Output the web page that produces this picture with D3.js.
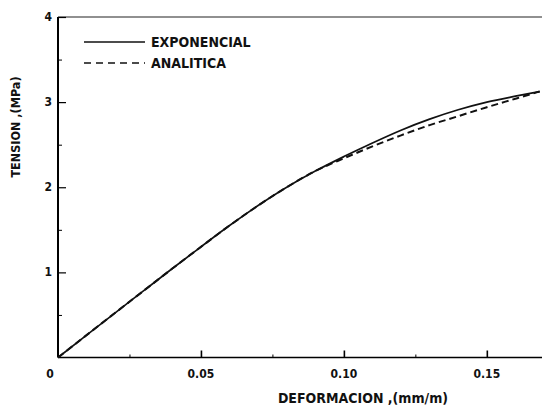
<!DOCTYPE html>
<html>
<head>
<meta charset="utf-8">
<script src="https://cdn.jsdelivr.net/npm/d3@7"></script>
<style>
  body { margin: 0; background: #fff; }
  text { font-family: "DejaVu Sans Condensed", "DejaVu Sans", sans-serif; font-weight: bold; fill: #111; }
</style>
</head>
<body>
<div id="chart"></div>
<script>
// curve readings (deformacion mm/m, tension MPa)
var expX = [0, 0.01, 0.02, 0.03, 0.04, 0.05, 0.06, 0.07, 0.08, 0.09, 0.10, 0.11, 0.12, 0.13, 0.14, 0.15, 0.16, 0.1685];
var expY = [0, 0.263, 0.525, 0.785, 1.045, 1.30, 1.55, 1.785, 2.0, 2.19, 2.36, 2.52, 2.67, 2.80, 2.91, 3.00, 3.07, 3.125];
var anaX = [0, 0.01, 0.02, 0.03, 0.04, 0.05, 0.06, 0.07, 0.08, 0.09, 0.10, 0.11, 0.12, 0.13, 0.14, 0.15, 0.16, 0.1685];
var anaY = [0, 0.263, 0.525, 0.785, 1.045, 1.30, 1.55, 1.785, 2.0, 2.19, 2.34, 2.48, 2.61, 2.73, 2.835, 2.94, 3.04, 3.125];

var xTicks = [0, 0.05, 0.10, 0.15];
var xTickLabels = ['0', '0.05', '0.10', '0.15'];
var xMinor = [0.025, 0.075, 0.125];
var yTicks = [1, 2, 3, 4];
var yMinor = [0.5, 1.5, 2.5, 3.5];
var seriesNames = ['EXPONENCIAL', 'ANALITICA'];

var width = 542, height = 407;

var svg = d3.select('#chart').append('svg')
  .attr('width', width).attr('height', height);

var x = d3.scaleLinear().domain([0, 0.1693]).range([58, 542]);
var y = d3.scaleLinear().domain([0, 4]).range([357.5, 17]);

// top border
svg.append('line')
  .attr('x1', x(0)).attr('x2', width)
  .attr('y1', y(4)).attr('y2', y(4))
  .attr('stroke', '#222').attr('stroke-width', 1.2);

// bottom axis, ticks pointing up
var xAxis = svg.append('g').attr('transform', 'translate(0,' + y(0) + ')')
  .call(d3.axisBottom(x).tickValues(xTicks.slice(1)).tickSize(-7).tickFormat(''));
xAxis.select('.domain').attr('stroke-width', 1.6).attr('d', 'M' + x(0) + ',0H' + width);
xAxis.selectAll('.tick line').attr('stroke-width', 1.6);
svg.append('g').attr('transform', 'translate(0,' + y(0) + ')')
  .call(d3.axisBottom(x).tickValues(xMinor).tickSize(-3).tickFormat(''))
  .select('.domain').remove();

svg.selectAll('.xlab').data(xTicks).enter().append('text')
  .attr('x', function (d, i) { return i === 0 ? x(d) - 8 : x(d); })
  .attr('y', 378)
  .attr('text-anchor', 'middle')
  .attr('font-size', 12)
  .text(function (d, i) { return xTickLabels[i]; });

// left axis, ticks pointing right
var yAxis = svg.append('g').attr('transform', 'translate(' + x(0) + ',0)')
  .call(d3.axisLeft(y).tickValues(yTicks).tickSize(-8).tickFormat(''));
yAxis.select('.domain').attr('stroke-width', 2).attr('d', 'M0,' + y(0) + 'V' + y(4));
yAxis.selectAll('.tick line').attr('stroke-width', 1.2);
svg.append('g').attr('transform', 'translate(' + x(0) + ',0)')
  .call(d3.axisLeft(y).tickValues(yMinor).tickSize(-4).tickFormat(''))
  .select('.domain').remove();

svg.selectAll('.ylab').data(yTicks).enter().append('text')
  .attr('x', x(0) - 6)
  .attr('y', function (d) { return y(d) + 4; })
  .attr('text-anchor', 'end')
  .attr('font-size', 12)
  .text(function (d) { return d; });

// axis titles
svg.append('text')
  .attr('x', 363).attr('y', 403)
  .attr('text-anchor', 'middle')
  .attr('font-size', 14)
  .text('DEFORMACION ,(mm/m)');

svg.append('text')
  .attr('transform', 'translate(20,' + 127 + ') rotate(-90)')
  .attr('text-anchor', 'middle')
  .attr('font-size', 12.5)
  .text('TENSION ,(MPa)');

// curves
var line = d3.line().x(function (d) { return x(d[0]); }).y(function (d) { return y(d[1]); })
  .curve(d3.curveMonotoneX);

svg.append('path')
  .datum(d3.zip(anaX, anaY))
  .attr('d', line)
  .attr('fill', 'none').attr('stroke', '#111')
  .attr('stroke-width', 2).attr('stroke-dasharray', '7,4');

svg.append('path')
  .datum(d3.zip(expX, expY))
  .attr('d', line)
  .attr('fill', 'none').attr('stroke', '#111')
  .attr('stroke-width', 1.7);

// legend
var legend = svg.append('g');
legend.selectAll('line').data(seriesNames).enter().append('line')
  .attr('x1', 84).attr('x2', 145)
  .attr('y1', function (d, i) { return 42 + i * 21; })
  .attr('y2', function (d, i) { return 42 + i * 21; })
  .attr('stroke', '#111').attr('stroke-width', 1.6)
  .attr('stroke-dasharray', function (d, i) { return i ? '7,5' : null; });
legend.selectAll('text').data(seriesNames).enter().append('text')
  .attr('x', 151)
  .attr('y', function (d, i) { return 47 + i * 21; })
  .attr('font-size', 14)
  .text(function (d) { return d; });
</script>
</body>
</html>
